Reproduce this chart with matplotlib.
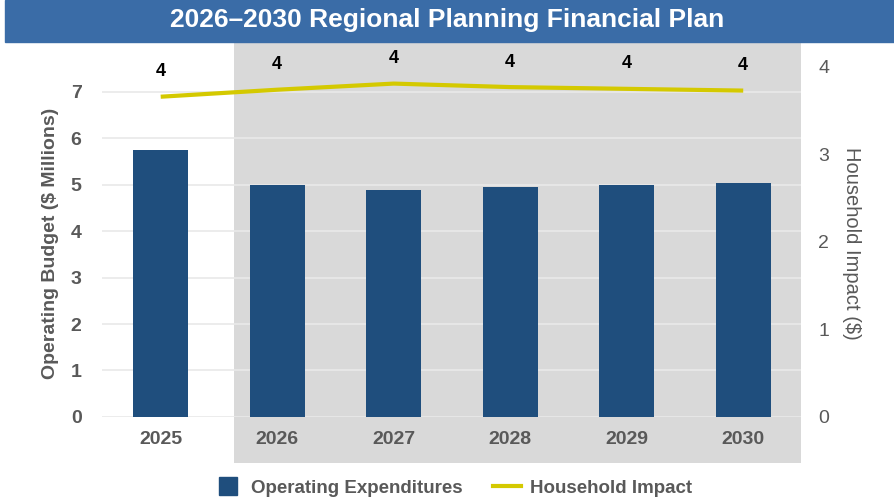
import matplotlib
matplotlib.use("Agg")
import matplotlib.pyplot as plt
from matplotlib.patches import Rectangle
from matplotlib.lines import Line2D
from matplotlib import font_manager
import numpy as np

# ---- data ----
years = ["2025", "2026", "2027", "2028", "2029", "2030"]
operating_exp = [5.75, 5.00, 4.88, 4.94, 5.00, 5.03]      # $ millions
household_impact = [3.66, 3.74, 3.81, 3.77, 3.75, 3.73]  # $
left_ticks = [0, 1, 2, 3, 4, 5, 6, 7]
right_ticks = [0, 1, 2, 3, 4]

BAR_COLOR = "#1f4e7d"
LINE_COLOR = "#d4c900"
BAND_COLOR = "#3a6ca7"
SHADE = "#d9d9d9"
GREY_TXT = "#595959"

# narrow font for title / labels if it is around
try:
    font_manager.findfont("Liberation Sans Narrow", fallback_to_default=False)
    NARROW = ["Liberation Sans Narrow", "DejaVu Sans"]
except Exception:
    NARROW = ["Liberation Sans", "DejaVu Sans"]

plt.rcParams["font.family"] = ["Liberation Sans", "DejaVu Sans"]

fig = plt.figure(figsize=(8.94, 5.01), dpi=100)
ax = fig.add_axes([0.1146, 0.1677, 0.7819, 0.7423])
ax.patch.set_alpha(0)

# title band
fig.patches.append(Rectangle((5 / 894, 1 - 42 / 501), 1, 42 / 501,
                             transform=fig.transFigure, color=BAND_COLOR, zorder=0))
fig.text(0.500, 1 - 20 / 501, "2026\u20132030 Regional Planning Financial Plan",
         ha="center", va="center", color="white", fontsize=19, fontweight="bold",
         family=NARROW)

x = np.arange(len(years))

# shaded planning period
ax.axvspan(0.63, 5.5, ymin=-0.124, ymax=1.005, color=SHADE, zorder=0, clip_on=False, lw=0)

ax.bar(x, operating_exp, width=0.47, color=BAR_COLOR, zorder=2)
ax.set_xlim(-0.5, 5.5)
ax.set_ylim(0, 8)
ax.set_yticks(left_ticks)
ax.set_xticks(x)
ax.set_xticklabels(years)
ax.grid(axis="y", color="#e9e9e9", linewidth=1.2, zorder=1)
ax.set_axisbelow(True)
for s in ax.spines.values():
    s.set_visible(False)
ax.tick_params(axis="both", length=0, labelcolor=GREY_TXT, labelsize=14)
ax.tick_params(axis="y", pad=15)
ax.tick_params(axis="x", pad=10)
for lab in ax.get_xticklabels() + ax.get_yticklabels():
    lab.set_fontweight("bold")
ax.set_ylabel("Operating Budget ($ Millions)", color=GREY_TXT, fontsize=14,
              fontweight="bold", va="center")
ax.yaxis.set_label_coords(-0.075, 0.468)

ax2 = ax.twinx()
ax2.set_ylim(0, 4.25)
ax2.set_yticks(right_ticks)
ax2.plot(x, household_impact, color=LINE_COLOR, linewidth=3, zorder=3,
         solid_capstyle="butt")
for xi, v in zip(x, household_impact):
    ax2.annotate(f"{v:.0f}", (xi, v), xytext=(0, 18), textcoords="offset points",
                 ha="center", va="center", fontsize=13, fontweight="bold",
                 color="black", family=NARROW)
for s in ax2.spines.values():
    s.set_visible(False)
ax2.tick_params(axis="y", length=0, labelcolor=GREY_TXT, labelsize=14, pad=12)
ax2.set_ylabel("Household Impact ($)", color=GREY_TXT, fontsize=14.5,
               rotation=-90, va="center")
ax2.yaxis.set_label_coords(1.071, 0.468)

handles = [Line2D([], [], marker="s", markersize=13, linestyle="none", color=BAR_COLOR),
           Line2D([0], [0], color=LINE_COLOR, linewidth=3)]
leg = fig.legend(handles, ["Operating Expenditures", "Household Impact"],
                 loc="center", bbox_to_anchor=(453 / 894, 13 / 501), ncol=2,
                 frameon=False, handlelength=1.5, columnspacing=1.6, handletextpad=0.5,
                 prop={"size": 13.5, "weight": "bold"})
for t in leg.get_texts():
    t.set_color(GREY_TXT)

fig.savefig("out.png", dpi=100)
